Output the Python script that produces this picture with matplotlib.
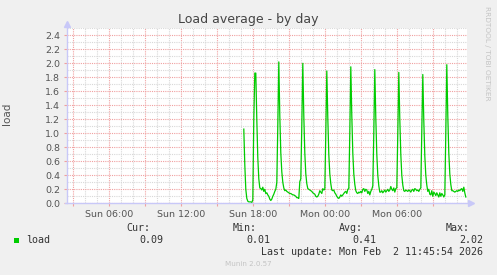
# munin style "Load average - by day" graph
import pandas as pd
import matplotlib
matplotlib.use('Agg')
import matplotlib.pyplot as plt
import matplotlib.dates as mdates
from matplotlib.ticker import MultipleLocator, FuncFormatter
from matplotlib.patches import Rectangle

W, H = 497, 275

# 5 minute samples of the load average, first sample Sun 17:15
load = [
    1.06, 0.55, 0.20, 0.07, 0.03, 0.02, 0.02, 0.02, 0.01,
    0.05, 1.20, 1.86, 1.86, 1.20, 0.65,
    0.35, 0.22, 0.21, 0.19, 0.23, 0.17, 0.20, 0.14, 0.15, 0.12, 0.10, 0.06, 0.04, 0.06, 0.10, 0.13, 0.17, 0.20,
    0.30, 1.10, 2.02, 1.25, 0.72, 0.45, 0.30,
    0.22, 0.18, 0.19, 0.17, 0.16, 0.15, 0.14, 0.14, 0.13, 0.12, 0.12, 0.11, 0.10, 0.08, 0.08, 0.07,
    0.31, 0.35, 1.10, 2.00, 1.25, 0.72, 0.42,
    0.28, 0.21, 0.20, 0.19, 0.18, 0.17, 0.15, 0.14, 0.13, 0.10, 0.09, 0.10, 0.13, 0.18, 0.16, 0.14, 0.21, 0.19, 0.20,
    1.00, 1.89, 1.22, 0.70, 0.42,
    0.28, 0.19, 0.18, 0.19, 0.15, 0.13, 0.10, 0.08, 0.07, 0.09, 0.12, 0.10, 0.12, 0.14, 0.16, 0.17, 0.14, 0.20, 0.21,
    1.00, 1.95, 1.25, 0.72, 0.42,
    0.27, 0.18, 0.15, 0.14, 0.16, 0.15, 0.17, 0.15, 0.20, 0.21, 0.17, 0.20, 0.19, 0.14, 0.17, 0.12, 0.17, 0.20, 0.25,
    1.00, 1.91, 1.22, 0.70, 0.40,
    0.25, 0.16, 0.16, 0.18, 0.15, 0.17, 0.19, 0.16, 0.18, 0.20, 0.17, 0.19, 0.24, 0.20, 0.18, 0.22, 0.16, 0.21, 0.22,
    1.00, 1.87, 1.20, 0.70, 0.40,
    0.26, 0.18, 0.17, 0.19, 0.18, 0.17, 0.19, 0.18, 0.16, 0.19, 0.20, 0.17, 0.21, 0.20, 0.18, 0.19, 0.17, 0.20, 0.22,
    1.00, 1.84, 1.18, 0.68, 0.40,
    0.26, 0.17, 0.20, 0.13, 0.12, 0.18, 0.10, 0.16, 0.14, 0.11, 0.15, 0.12, 0.09, 0.15, 0.10, 0.14, 0.12, 0.09, 0.12,
    1.00, 1.98, 1.25, 0.72, 0.42,
    0.27, 0.18, 0.18, 0.17, 0.16, 0.17, 0.18, 0.17, 0.19, 0.18, 0.20, 0.21, 0.17, 0.23, 0.15, 0.09,
]
times = pd.date_range('2026-02-01 17:15', periods=len(load), freq='5min')

x_start = pd.Timestamp('2026-02-01 02:31')
x_end = pd.Timestamp('2026-02-02 11:51')

stat_names = ['Cur:', 'Min:', 'Avg:', 'Max:']
stat_values = ['0.09', '0.01', '0.41', '2.02']
last_update = 'Last update: Mon Feb  2 11:45:54 2026'

BG = '#F0F0F0'
FONT = '#555555'
AXIS = '#C8C8F8'
MGRID = '#F0A0A0'
GRID = '#D8D8D8'


def fx(px):
    return px / W


def fy(py):
    return 1 - py / H


fig = plt.figure(figsize=(W / 100, H / 100), dpi=100, facecolor=BG)
ax = fig.add_axes([fx(67), fy(203.3), 400 / W, 175 / H])
ax.set_facecolor('white')

ax.plot(times, load, color='#00CC00', lw=0.9, zorder=3)

ax.set_xlim(x_start, x_end)
ax.set_ylim(0, 2.5)

ax.xaxis.set_major_locator(mdates.HourLocator(byhour=range(0, 24, 3)))
ax.xaxis.set_minor_locator(mdates.HourLocator())


def time_label(v, pos):
    d = mdates.num2date(v)
    return d.strftime('%a %H:%M') if d.hour % 6 == 0 else ''


ax.xaxis.set_major_formatter(FuncFormatter(time_label))
ax.yaxis.set_major_locator(MultipleLocator(0.2))
ax.yaxis.set_minor_locator(MultipleLocator(0.1))
ax.yaxis.set_major_formatter(FuncFormatter(lambda v, pos: '%.1f' % v))

ax.set_axisbelow(True)
ax.grid(which='major', color=MGRID, linestyle=(0, (1, 1)), lw=0.8)
ax.grid(which='minor', color=GRID, linestyle=(0, (1, 1)), lw=0.8)

ax.tick_params(which='major', length=2, width=0.8, color=MGRID,
               labelcolor=FONT, labelsize=6.8, pad=3)
ax.tick_params(which='minor', length=0)

for s in ax.spines.values():
    s.set_visible(False)

# axis lines with arrow heads
ax.plot([0, 0], [0, 1.03], transform=ax.transAxes, color=AXIS, lw=1, clip_on=False, zorder=4)
ax.plot([-0.005, 1.01], [0, 0], transform=ax.transAxes, color=AXIS, lw=1, clip_on=False, zorder=4)
ax.plot([0], [1 + 4.5 / 175], marker='^', ms=4.5, color=AXIS, transform=ax.transAxes, clip_on=False, zorder=4)
ax.plot([1 + 3.5 / 400], [0], marker='>', ms=4.5, color=AXIS, transform=ax.transAxes, clip_on=False, zorder=4)

# texts
fig.text(0.5, fy(19), 'Load average - by day', ha='center', va='center', fontsize=9, color='#444444')
fig.text(fx(7), fy(114), 'load', rotation=90, ha='center', va='center', fontsize=7.5, color=FONT)
fig.text(fx(487), fy(53), 'RRDTOOL / TOBI OETIKER', rotation=-90, ha='center', va='center',
         fontsize=5.3, color='#C4C4C4')

mono = 'DejaVu Sans Mono'
fig.patches.append(Rectangle((fx(14.3), fy(242.5)), 5 / W, 5 / H, transform=fig.transFigure,
                             facecolor='#00CC00', edgecolor='none'))
fig.text(fx(26), fy(240), 'load', ha='left', va='center', fontsize=7.2, family=mono, color='#333333')
name_right = [150, 257, 363, 470]
val_right = [163, 270, 376, 483]
for name, val, xn, xv in zip(stat_names, stat_values, name_right, val_right):
    fig.text(fx(xn), fy(227.7), name, ha='right', va='center', fontsize=7.2, family=mono, color='#333333')
    fig.text(fx(xv), fy(240), val, ha='right', va='center', fontsize=7.2, family=mono, color='#333333')
fig.text(fx(483), fy(251.7), last_update, ha='right', va='center', fontsize=7.2, family=mono, color='#333333')
fig.text(fx(248), fy(264), 'Munin 2.0.57', ha='center', va='center', fontsize=5.1, color='#C4C4C4')

fig.savefig('out.png', dpi=100, facecolor=BG)
